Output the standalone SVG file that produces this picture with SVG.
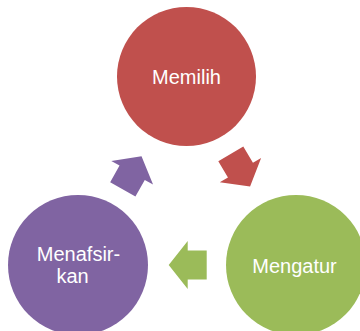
<svg xmlns="http://www.w3.org/2000/svg" width="360" height="331" viewBox="0 0 360 331">
<style>
.lbl{font-family:"Liberation Sans",Arial,sans-serif;font-size:20px;fill:#ffffff;text-anchor:middle}
</style>
<defs>
<path id="arr" d="M0,-14.5 L19,-14.5 L19,-24 L38,0 L19,24 L19,14.5 L0,14.5 Z"/>
</defs>
<rect width="360" height="331" fill="#ffffff"/>
<g id="connectors">
<use href="#arr" fill="#C0504D" transform="translate(230.8,153.8) rotate(59.5)"/>
<use href="#arr" fill="#9BBB59" transform="translate(206.7,265) rotate(180)"/>
<use href="#arr" fill="#8064A2" transform="translate(122.8,189.3) rotate(-60.5)"/>
</g>
<g id="memilih">
<circle cx="186.5" cy="76.5" r="69.5" fill="#C0504D"/>
<text class="lbl" x="186.5" y="84">Memilih</text>
</g>
<g id="mengatur">
<circle cx="296" cy="265" r="70" fill="#9BBB59"/>
<text class="lbl" x="294.5" y="273">Mengatur</text>
</g>
<g id="menafsirkan">
<circle cx="78" cy="265" r="70" fill="#8064A2"/>
<text class="lbl" x="78.5" y="261">Menafsir-</text>
<text class="lbl" x="72.5" y="283">kan</text>
</g>
</svg>
